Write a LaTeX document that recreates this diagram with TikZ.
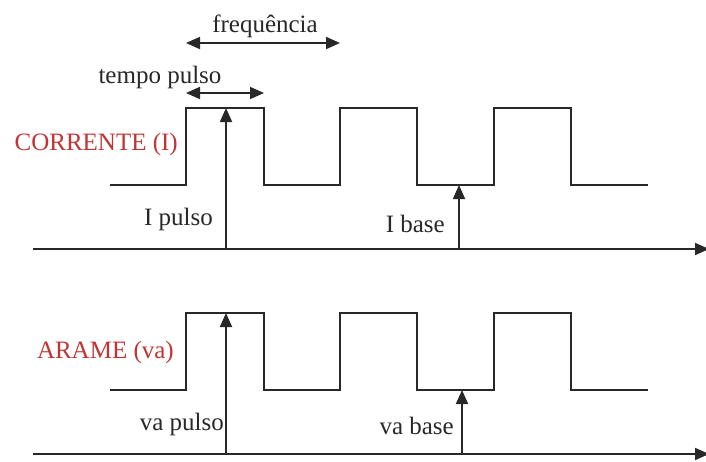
\documentclass[tikz,border=0pt]{standalone}
\usepackage{fontspec}
\setmainfont{Liberation Serif}
\usetikzlibrary{arrows.meta}
\definecolor{labelred}{RGB}{192,52,52}
\definecolor{linegray}{RGB}{40,40,40}
\begin{document}
\begin{tikzpicture}[x=1pt,y=-1pt,
  wave/.style={line width=1.8pt,draw=linegray},
  axisline/.style={line width=1.8pt,draw=linegray,-{Triangle[length=14pt,width=12pt]}},
  measure/.style={line width=1.8pt,draw=linegray,-{Triangle[length=14pt,width=12pt]}},
  span/.style={line width=1.8pt,draw=linegray,{Triangle[length=14pt,width=12pt]}-{Triangle[length=14pt,width=12pt]}},
  lbl/.style={font=\fontsize{25}{28}\selectfont, inner sep=0pt, text=linegray},
  redlbl/.style={lbl,text=labelred}]
\useasboundingbox (0,0) rectangle (706,461);

% ---- top: current ----
\draw[wave] (110,185) -| (186,108) -| (264,185) -| (340,108) -| (417,185)
  -| (494,108) -| (571,185) -- (648,185);
\coordinate (ax1s) at (33,249);
\coordinate (ax1e) at (709,249);
\draw[axisline] (ax1s) -- (ax1e);
\coordinate (ip0) at (226,249);
\coordinate (ip1) at (226,108);
\draw[measure] (ip0) -- (ip1);
\coordinate (ib0) at (459,249);
\coordinate (ib1) at (459,185);
\draw[measure] (ib0) -- (ib1);

\coordinate (tp0) at (186,93);
\coordinate (tp1) at (264,93);
\draw[span] (tp0) -- (tp1);
\coordinate (fr0) at (186,43);
\coordinate (fr1) at (340,43);
\draw[span] (fr0) -- (fr1);

\node[lbl,anchor=base] (tpl) at (160,83) {tempo pulso};
\node[lbl,anchor=base] (frl) at (265,32) {frequência};
\node[redlbl,anchor=base east] (cor) at (178,150) {CORRENTE (I)};
\node[lbl,anchor=base east] (ipl) at (213,225) {I pulso};
\node[lbl,anchor=base east] (ibl) at (445,232) {I base};

% ---- bottom: wire ----
\draw[wave] (110,390) -| (186,313) -| (264,390) -| (340,313) -| (417,390)
  -| (494,313) -| (571,390) -- (648,390);
\coordinate (ax2s) at (33,454);
\coordinate (ax2e) at (709,454);
\draw[axisline] (ax2s) -- (ax2e);
\coordinate (vp0) at (226,454);
\coordinate (vp1) at (226,313);
\draw[measure] (vp0) -- (vp1);
\coordinate (vb0) at (462,454);
\coordinate (vb1) at (462,390);
\draw[measure] (vb0) -- (vb1);

\node[redlbl,anchor=base east] (ara) at (174,358) {ARAME (va)};
\node[lbl,anchor=base east] (vpl) at (224,430) {va pulso};
\node[lbl,anchor=base east] (vbl) at (454,434) {va base};
\end{tikzpicture}
\end{document}
